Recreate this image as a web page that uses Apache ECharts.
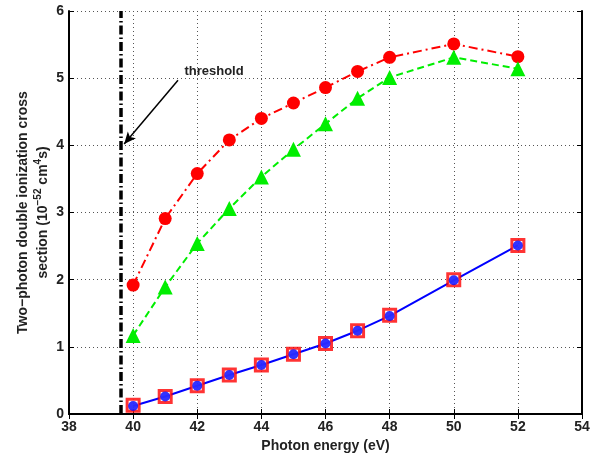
<!DOCTYPE html>
<html><head><meta charset="utf-8">
<script src="https://cdn.jsdelivr.net/npm/echarts@6/dist/echarts.min.js"></script>
<style>html,body{margin:0;padding:0;background:#fff}#c{width:599px;height:455px}</style>
</head><body><div id="c"></div>
<script>
const energies = [40, 41, 42, 43, 44, 45, 46, 47, 48, 50, 52];
const redCircles = [1.92, 2.91, 3.58, 4.08, 4.40, 4.63, 4.86, 5.10, 5.31, 5.51, 5.32];
const greenTriangles = [1.17, 1.89, 2.54, 3.06, 3.53, 3.94, 4.32, 4.70, 5.01, 5.31, 5.14];
const blueCircles = [0.12, 0.26, 0.42, 0.58, 0.73, 0.89, 1.05, 1.24, 1.46, 1.99, 2.51];
const redSquares = [0.13, 0.26, 0.42, 0.58, 0.73, 0.89, 1.05, 1.24, 1.47, 2.00, 2.51];
const thresholdEnergy = 39.6;
const arrowFrom = [41.4, 4.97];
const arrowTo = [39.72, 4.02];
const thresholdLabelPos = [41.6, 5.1];
const xTicks = {min: 38, max: 54, interval: 2};
const yTicks = {min: 0, max: 6, interval: 1};

const pair = (xs, ys) => xs.map((x, i) => [x, ys[i]]);
const font = '"Liberation Sans", Arial, sans-serif';
const txt = '#222';
const chart = echarts.init(document.getElementById('c'));
const gridLine = {show: true, lineStyle: {color: '#555', type: [1, 3], width: 1}};
chart.setOption({
  animation: false,
  grid: {left: 69, top: 11, right: 17, bottom: 41, outerBoundsMode: 'none', containLabel: false},
  xAxis: [{
    type: 'value', min: xTicks.min, max: xTicks.max, interval: xTicks.interval,
    axisLine: {lineStyle: {color: '#000', width: 2}},
    axisTick: {inside: true, length: 5, lineStyle: {color: '#000', width: 1}},
    axisLabel: {color: txt, fontFamily: font, fontWeight: 'bold', fontSize: 14, margin: 6},
    splitLine: gridLine,
    name: 'Photon energy (eV)', nameLocation: 'middle', nameGap: 21,
    nameTextStyle: {color: txt, fontFamily: font, fontWeight: 'bold', fontSize: 14}
  }, {
    type: 'value', position: 'top', min: xTicks.min, max: xTicks.max, interval: xTicks.interval,
    axisLine: {show: true, lineStyle: {color: '#000', width: 2}},
    axisTick: {show: true, inside: true, length: 5, lineStyle: {color: '#000'}},
    axisLabel: {show: false}, splitLine: {show: false}
  }],
  yAxis: [{
    type: 'value', min: yTicks.min, max: yTicks.max, interval: yTicks.interval,
    axisLine: {show: true, lineStyle: {color: '#000', width: 2}},
    axisTick: {show: true, inside: true, length: 5, lineStyle: {color: '#000'}},
    axisLabel: {color: txt, fontFamily: font, fontWeight: 'bold', fontSize: 14, margin: 5},
    splitLine: gridLine,
    name: '{n|Two\u2212photon double ionization cross}\n{n|section (10}{s|\u221252}{n| cm}{s|4}{n|s)}',
    nameLocation: 'middle', nameGap: 16, nameMoveOverlap: false,
    nameTextStyle: {color: txt, fontFamily: font, fontWeight: 'bold', fontSize: 14, lineHeight: 20,
      rich: {
        n: {color: txt, fontFamily: font, fontWeight: 'bold', fontSize: 14, lineHeight: 20},
        s: {color: txt, fontFamily: font, fontWeight: 'bold', fontSize: 10, lineHeight: 20, verticalAlign: 'top', padding: [0, 0, 8, 0]}
      }}
  }, {
    type: 'value', position: 'right', min: yTicks.min, max: yTicks.max, interval: yTicks.interval,
    axisLine: {show: true, lineStyle: {color: '#000', width: 2}},
    axisTick: {show: true, inside: true, length: 5, lineStyle: {color: '#000'}},
    axisLabel: {show: false}, splitLine: {show: false}
  }],
  series: [{
    type: 'line', data: pair(energies, redCircles), symbol: 'circle', symbolSize: 13,
    lineStyle: {color: '#ff0000', width: 2, type: [9, 4, 2, 4]}, itemStyle: {color: '#ff0000'}, z: 3
  }, {
    type: 'line', data: pair(energies, greenTriangles), symbol: 'triangle', symbolSize: 15,
    lineStyle: {color: '#00ee00', width: 2, type: [7, 4]}, itemStyle: {color: '#00ee00'}, z: 3
  }, {
    type: 'line', data: pair(energies, blueCircles), symbol: 'none',
    lineStyle: {color: '#0000ff', width: 2}, z: 3
  }, {
    type: 'scatter', data: pair(energies, redSquares), symbol: 'rect', symbolSize: 12,
    itemStyle: {color: '#fff', borderColor: '#ff0000', borderWidth: 3}, z: 4
  }, {
    type: 'scatter', data: pair(energies, blueCircles), symbol: 'circle', symbolSize: 10,
    itemStyle: {color: '#0000ff'}, z: 5
  }, {
    type: 'line', data: [], z: 6,
    markLine: {
      silent: true, animation: false, label: {show: false},
      data: [
        [{coord: [thresholdEnergy, yTicks.min], symbol: 'none', lineStyle: {color: '#000', width: 3.5, type: [9, 3, 1.5, 3]}},
         {coord: [thresholdEnergy, yTicks.max], symbol: 'none'}],
        [{coord: arrowFrom, symbol: 'none', lineStyle: {color: '#000', width: 1.5, type: 'solid'}},
         {coord: arrowTo, symbol: 'arrow', symbolSize: [8, 12]}]
      ]
    },
    markPoint: {
      silent: true, symbolSize: 0,
      data: [{coord: thresholdLabelPos, label: {show: true, formatter: 'threshold', position: 'right', distance: 0,
        color: txt, fontFamily: font, fontWeight: 'bold', fontSize: 13}}]
    }
  }]
});
</script></body></html>
